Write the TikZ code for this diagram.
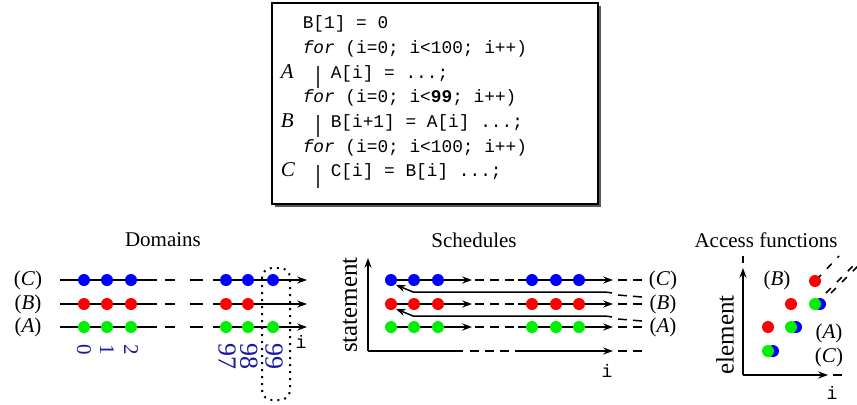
\documentclass[tikz,border=0pt]{standalone}
\usepackage{fontspec}
\setmainfont{Liberation Serif}
\setmonofont{Liberation Mono}
\usetikzlibrary{arrows.meta}
\definecolor{pred}{RGB}{255,0,0}
\definecolor{pgreen}{RGB}{0,240,0}
\definecolor{pblue}{RGB}{0,0,255}
\definecolor{navy}{RGB}{25,25,160}
\begin{document}
\begin{tikzpicture}[x=0.5pt,y=-0.5pt,line width=0.75pt,
  arr/.style={-{Stealth[length=5pt,width=3.6pt,inset=1.8pt]}},
  dot/.style={circle,inner sep=0pt,minimum size=6pt},
  rdot/.style={dot,fill=pred},
  gdot/.style={dot,fill=pgreen},
  bdot/.style={dot,fill=pblue},
  title/.style={font=\fontsize{10.5}{12}\selectfont},
  lab/.style={font=\fontsize{10.5}{12}\selectfont,inner sep=0pt},
  axlab/.style={font=\fontsize{12.5}{14}\selectfont,inner sep=0pt},
  code/.style={anchor=base west,inner sep=0pt,font=\fontsize{8.9}{10}\ttfamily},
  clab/.style={anchor=base west,inner sep=0pt,font=\fontsize{10.5}{12}\itshape},
  ivar/.style={font=\fontsize{9}{10}\ttfamily,inner sep=0pt},
  smalld/.style={font=\fontsize{10.5}{12}\selectfont,text=navy,rotate=-90,anchor=west,inner sep=0pt},
  bigd/.style={font=\fontsize{13}{14}\selectfont,text=navy,rotate=-90,anchor=west,inner sep=0pt},
  sdash/.style={dash pattern=on 4.5pt off 3pt},
  ddash/.style={dash pattern=on 3.5pt off 4.2pt}]
\useasboundingbox (0,0) rectangle (857,404);

% ---------- code box ----------
\fill[black!65] (275,6) rectangle (601,207);
\draw[fill=white,line width=1pt] (272,3) rectangle (598,204);
\node[code] (l1) at (302,28) {B[1] = 0};
\node[code] (l2) at (302,53) {\textit{for} (i=0; i<100; i++)};
\node[clab] (la) at (280,78) {A};
\node[code] (l3) at (330,78) {A[i] = ...;};
\node[code] (l4) at (302,102) {\textit{for} (i=0; i<\textbf{99}; i++)};
\node[clab] (lb) at (280,127) {B};
\node[code] (l5) at (330,127) {B[i+1] = A[i] ...;};
\node[code] (l6) at (302,152) {\textit{for} (i=0; i<100; i++)};
\node[clab] (lc) at (280,176) {C};
\node[code] (l7) at (330,176) {C[i] = B[i] ...;};
\draw[black!75,line width=0.8pt] (318,66) -- (318,88);
\draw[black!75,line width=0.8pt] (318,115) -- (318,137);
\draw[black!75,line width=0.8pt] (318,165) -- (318,188);

% ---------- Domains ----------
\node[title] (tdom) at (163,240) {Domains};
\foreach \y/\n in {280/C,304/B,327/A}{
  \node[lab] (dl\n) at (28,\y) {(\textit{\n})};
  \draw (60,\y) -- (157,\y);
  \draw (165,\y) -- (175,\y);
  \draw (190,\y) -- (203,\y);
  \draw[arr] (213,\y) -- (307,\y);
}
\foreach \x/\k in {84/0,107/1,131/2,226/97,248/98,273/99}{
  \node[bdot] (dc\k) at (\x,280) {};
  \node[gdot] (da\k) at (\x,327) {};
}
\foreach \x/\k in {84/0,107/1,131/2,226/97,248/98}{
  \node[rdot] (db\k) at (\x,304) {};
}
\node[smalld] (n0) at (84,344) {0};
\node[smalld] (n1) at (107,344) {1};
\node[smalld] (n2) at (131,344) {2};
\node[bigd] (n97) at (227,343) {97};
\node[bigd] (n98) at (249,343) {98};
\node[bigd] (n99) at (274,343) {99};
\draw[line width=1pt,dash pattern=on 1pt off 2.5pt,rounded corners=5pt] (262,268) rectangle (290,400);
\node[ivar] (di) at (301,342) {i};

% ---------- Schedules ----------
\node[title] (tsch) at (474,240) {Schedules};
\node[axlab,rotate=90] (stl) at (350,305) {statement};
\draw[arr] (368,351) -- (368,258);
\draw (368,351) -- (463,351);
\draw[sdash] (470,351) -- (518,351);
\draw[arr] (518,351) -- (613,351);
\draw[sdash] (618,351) -- (642,351);
\node[ivar] (si) at (607,371) {i};
\foreach \y/\n in {280/C,304/B,327/A}{
  \node[lab] (sl\n) at (663,\y) {(\textit{\n})};
  \draw[arr] (391,\y) -- (472,\y);
  \draw[sdash] (475,\y) -- (518,\y);
  \draw[arr] (518,\y) -- (613,\y);
  \draw[sdash] (618,\y) -- (642,\y);
}
\foreach \x/\k in {391/1,414/2,438/3,532/4,556/5,579/6}{
  \node[bdot] (sc\k) at (\x,280) {};
  \node[rdot] (sb\k) at (\x,304) {};
  \node[gdot] (sa\k) at (\x,327) {};
}
% back arrows
\draw[sdash] (618,295) -- (642,297);
\draw[arr] (612,293) .. controls (606,292) .. (598,292) -- (413,292) -- (sc1.south east);
\draw[sdash] (618,319) -- (642,321);
\draw[arr] (612,317) .. controls (606,316) .. (598,316) -- (413,316) -- (sb1.south east);

% ---------- Access functions ----------
\node[title] (tacc) at (766,240) {Access functions};
\node[axlab,rotate=90] (ael) at (725,335) {element};
\draw[arr] (743,375) -- (743,268);
\draw (743,263) -- (743,256);
\draw[arr] (743,375) -- (828,375);
\draw (833,375) -- (842,375);
\node[ivar] (ai) at (832,393) {i};
\node[lab] (aB) at (777,280) {(\textit{B})};
\node[lab] (aA) at (829,333) {(\textit{A})};
\node[lab] (aC) at (829,357) {(\textit{C})};
\node[bdot] (ab1) at (773,351) {};
\node[gdot] (ag1) at (768,351) {};
\node[bdot] (ab2) at (796,327) {};
\node[gdot] (ag2) at (791,327) {};
\node[bdot] (ab3) at (820,304) {};
\node[gdot] (ag3) at (815,304) {};
\node[rdot] (ar1) at (768,327) {};
\node[rdot] (ar2) at (791,304) {};
\node[rdot] (ar3) at (815,281) {};
\draw[ddash,dash phase=2pt] (819,277) -- (839,256);
\draw[ddash] (826,293) -- (860,259);
\draw[ddash] (831,293) -- (865,259);
\end{tikzpicture}
\end{document}
